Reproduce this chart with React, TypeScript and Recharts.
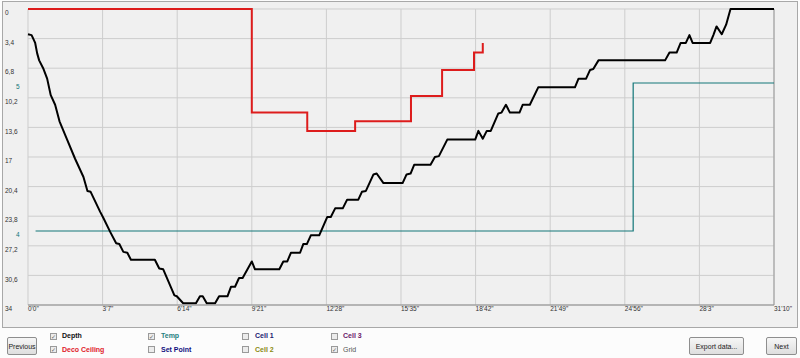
import React from 'react';
import { LineChart, Line, XAxis, YAxis, CartesianGrid, ReferenceLine } from 'recharts';

// Depth profile (time in seconds, depth in m)
const depthTime = [0, 9, 18, 23, 28, 38, 48, 57, 68, 79, 97, 118, 139, 149, 157, 181, 189, 206, 221, 229, 239, 249, 258, 318, 329, 339, 367, 373, 389, 421, 431, 438, 448, 469, 479, 500, 509, 519, 529, 538, 561, 569, 630, 640, 650, 659, 682, 690, 699, 709, 730, 750, 759, 770, 789, 800, 828, 837, 847, 866, 874, 891, 939, 949, 959, 968, 1009, 1020, 1030, 1051, 1121, 1129, 1140, 1150, 1160, 1179, 1187, 1198, 1208, 1232, 1240, 1258, 1279, 1371, 1380, 1399, 1409, 1417, 1430, 1597, 1608, 1626, 1636, 1649, 1658, 1666, 1710, 1718, 1726, 1739, 1750, 1761, 1870];
const depthVals = [2.9, 3.0, 3.9, 5.1, 5.9, 6.8, 8.0, 9.9, 11.0, 12.9, 14.9, 17.2, 19.3, 20.9, 21.0, 23.3, 24.0, 25.6, 26.9, 27.0, 27.9, 28.0, 28.8, 28.8, 29.8, 29.9, 32.9, 33.0, 33.8, 33.8, 33.0, 33.0, 33.8, 33.8, 33.0, 33.0, 31.9, 31.9, 30.9, 30.9, 29.0, 29.9, 29.9, 29.0, 29.0, 28.0, 28.0, 27.0, 27.0, 26.0, 26.0, 23.9, 23.9, 22.9, 22.9, 21.9, 21.9, 21.0, 20.9, 19.0, 18.9, 20.0, 20.0, 19.0, 18.9, 17.9, 17.9, 17.0, 16.9, 15.0, 15.0, 14.0, 14.9, 14.0, 14.0, 12.0, 11.9, 11.0, 11.9, 11.9, 11.0, 11.0, 9.0, 9.0, 8.0, 8.0, 7.0, 6.9, 5.9, 5.9, 5.0, 5.0, 3.9, 3.9, 3.0, 3.9, 3.9, 3.0, 2.0, 2.9, 1.8, 0, 0];

// Deco ceiling (step after)
const decoTime = [0, 561, 700, 820, 960, 1038, 1118, 1140];
const decoVals = [0, 11.9, 14.0, 12.9, 10.0, 7.0, 5.0, 3.9];

// Temperature (step after)
const tempTime = [19, 1517, 1870];
const tempVals = [4, 5, 5];

// Ticks
const timeTicks = [0, 187, 374, 561, 748, 935, 1122, 1309, 1496, 1683, 1870];
const depthTicks = [0, 3.4, 6.8, 10.2, 13.6, 17, 20.4, 23.8, 27.2, 30.6, 34];
const tempTicks = [4, 5];

const depthData = depthTime.map((t, i) => ({ t, d: depthVals[i] }));
const decoData = decoTime.map((t, i) => ({ t, c: decoVals[i] }));
const tempData = tempTime.map((t, i) => ({ t, temp: tempVals[i] }));

const FONT = '"Liberation Sans", Arial, sans-serif';
const TEAL = '#127679';
const RED = '#dd1c1c';

const fmtTime = (t: number) => `${Math.floor(t / 60)}'${t % 60}"`;

const XTick = (props: any) => {
  const { x, payload } = props;
  return (
    <text x={x} y={309} dy="0.35em" fontSize={6.5} fontFamily={FONT} fill="#333" textAnchor="start">
      {fmtTime(payload.value)}
    </text>
  );
};

const DepthTick = (props: any) => {
  const { y, payload } = props;
  return (
    <text x={5} y={y + 4} dy="0.35em" fontSize={6.5} fontFamily={FONT} fill="#333" textAnchor="start">
      {String(payload.value).replace('.', ',')}
    </text>
  );
};

const TempTick = (props: any) => {
  const { y, payload } = props;
  return (
    <text x={16} y={y + 3.5} dy="0.35em" fontSize={6.5} fontFamily={FONT} fill={TEAL} textAnchor="start">
      {String(payload.value)}
    </text>
  );
};

const legendItems = [
  { label: 'Depth', color: '#111', checked: true, col: 0, row: 0, bold: true },
  { label: 'Deco Ceiling', color: '#e0202a', checked: true, col: 0, row: 1, bold: true },
  { label: 'Temp', color: '#1f8080', checked: true, col: 1, row: 0, bold: true },
  { label: 'Set Point', color: '#101080', checked: false, col: 1, row: 1, bold: true },
  { label: 'Cell 1', color: '#1a1a70', checked: false, col: 2, row: 0, bold: true },
  { label: 'Cell 2', color: '#8a8a10', checked: false, col: 2, row: 1, bold: true },
  { label: 'Cell 3', color: '#6a1a6a', checked: false, col: 3, row: 0, bold: true },
  { label: 'Grid', color: '#555', checked: true, col: 3, row: 1, bold: false },
];
const colBox = [50, 148, 242, 331];
const colText = [62, 161, 255, 343];
const rowY = [336, 349.5];

const Button = ({ left, width, label }: { left: number; width: number; label: string }) => (
  <div
    style={{
      position: 'absolute',
      left,
      top: 337,
      width,
      height: 18,
      boxSizing: 'border-box',
      border: '1px solid #8e8e8e',
      borderRadius: 2,
      background: 'linear-gradient(#f6f6f6, #dedede)',
      fontFamily: FONT,
      fontSize: 7,
      color: '#222',
      display: 'flex',
      alignItems: 'center',
      justifyContent: 'center',
    }}
  >
    {label}
  </div>
);

export default function App() {
  return (
    <div style={{ position: 'absolute', left: 0, top: 0, width: 800, height: 358, background: '#fcfcfc', overflow: 'hidden' }}>
      <div
        style={{
          position: 'absolute',
          left: 2,
          top: 1,
          width: 796,
          height: 327,
          boxSizing: 'border-box',
          border: '1px solid #a8a8a8',
          background: '#f0f0f0',
        }}
      />
      <div style={{ position: 'absolute', left: 0, top: 0 }}>
        <LineChart width={800} height={328} margin={{ top: 9, right: 0, bottom: 0, left: 0 }}>
          <CartesianGrid yAxisId="depth" stroke="#cdcdcd" strokeWidth={1} />
          <XAxis
            dataKey="t"
            type="number"
            domain={[0, 1870]}
            ticks={timeTicks}
            height={23}
            tickLine={false}
            axisLine={{ stroke: '#8c8c8c' }}
            tick={<XTick />}
            interval={0}
          />
          <YAxis
            yAxisId="depth"
            reversed
            type="number"
            domain={[0, 34]}
            ticks={depthTicks}
            width={28}
            tickLine={false}
            axisLine={false}
            tick={<DepthTick />}
            interval={0}
          />
          <YAxis
            yAxisId="temp"
            orientation="right"
            type="number"
            domain={[3.5, 5.5]}
            ticks={tempTicks}
            width={26}
            tickLine={false}
            axisLine={false}
            tick={<TempTick />}
            interval={0}
          />
          <ReferenceLine yAxisId="depth" x={1870} stroke="#9a9a9a" />
          <Line
            yAxisId="temp"
            data={tempData}
            dataKey="temp"
            type="stepAfter"
            stroke={TEAL}
            strokeWidth={1.2}
            dot={false}
            isAnimationActive={false}
          />
          <Line
            yAxisId="depth"
            data={decoData}
            dataKey="c"
            type="stepAfter"
            stroke={RED}
            strokeWidth={2}
            dot={false}
            isAnimationActive={false}
          />
          <Line
            yAxisId="depth"
            data={depthData}
            dataKey="d"
            type="linear"
            stroke="#000"
            strokeWidth={2}
            strokeLinejoin="round"
            dot={false}
            isAnimationActive={false}
          />
        </LineChart>
      </div>

      {legendItems.map((it) => (
        <React.Fragment key={it.label}>
          <div
            style={{
              position: 'absolute',
              left: colBox[it.col],
              top: rowY[it.row] - 3.5,
              width: 7,
              height: 7,
              boxSizing: 'border-box',
              border: '1px solid #9a9a9a',
              background: '#ececec',
              fontSize: 6,
              lineHeight: '5px',
              color: '#666',
              fontFamily: '"DejaVu Sans", sans-serif',
              textAlign: 'center',
            }}
          >
            {it.checked ? '✓' : ''}
          </div>
          <div
            style={{
              position: 'absolute',
              left: colText[it.col],
              top: rowY[it.row] - 5,
              height: 10,
              lineHeight: '10px',
              fontFamily: FONT,
              fontSize: 7,
              fontWeight: it.bold ? 'bold' : 'normal',
              color: it.color,
              whiteSpace: 'nowrap',
            }}
          >
            {it.label}
          </div>
        </React.Fragment>
      ))}

      <Button left={7} width={30} label="Previous" />
      <Button left={689} width={55} label="Export data..." />
      <Button left={766} width={31} label="Next" />
    </div>
  );
}
